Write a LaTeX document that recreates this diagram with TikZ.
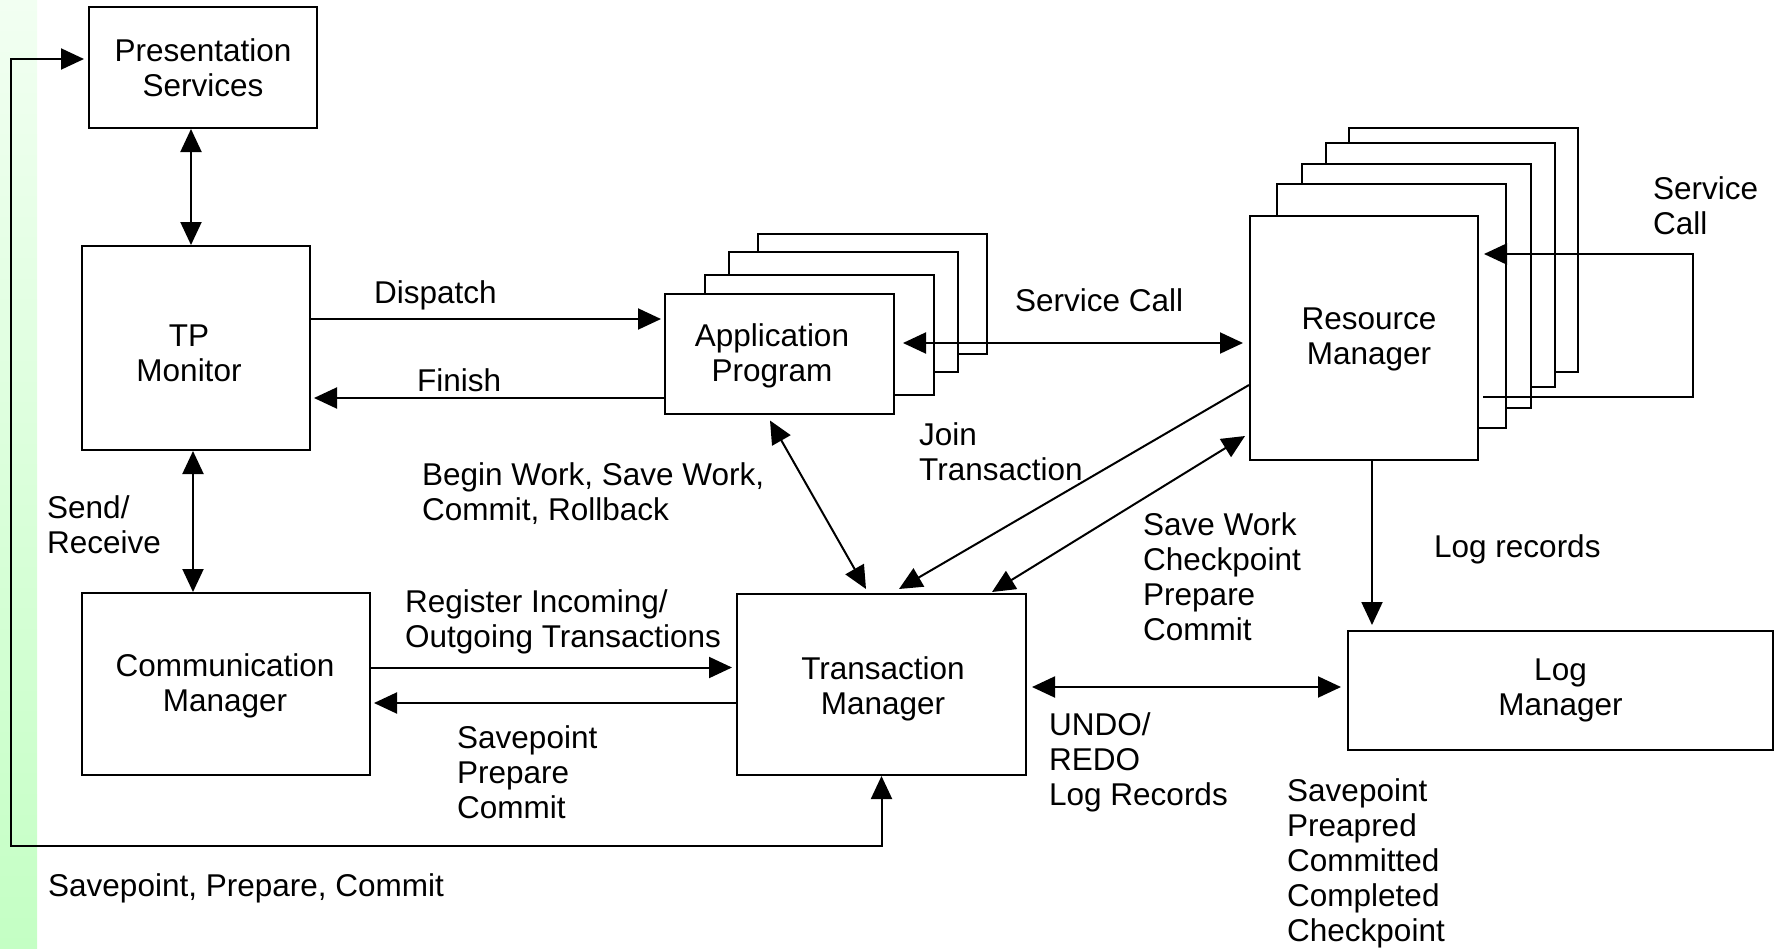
\documentclass[tikz,border=0pt]{standalone}
\usepackage{fontspec}
\setmainfont{Liberation Sans}
\usetikzlibrary{arrows.meta}
\definecolor{gtop}{RGB}{242,255,242}
\definecolor{gbot}{RGB}{196,255,196}
\newcommand{\diafont}{\fontsize{31.5}{35}\selectfont}
\begin{document}
\begin{tikzpicture}[x=1pt,y=-1pt,
  box/.style={draw, line width=2pt, fill=white, inner sep=0pt, align=center, font=\diafont},
  txt/.style={inner sep=0pt, align=center, font=\diafont},
  lbl/.style={inner sep=0pt, anchor=west, align=left, font=\diafont},
  ln/.style={line width=2pt},
  arr/.style={ln, -{Triangle[length=23pt,width=21pt]}},
  dbl/.style={ln, {Triangle[length=23pt,width=21pt]}-{Triangle[length=23pt,width=21pt]}}
]
\useasboundingbox (0,0) rectangle (1778,948);
\shade[top color=gtop, bottom color=gbot] (0,0) rectangle (37,948);

% boxes
\node[box, minimum width=228pt, minimum height=121pt] (ps) at (203,67.5) {Presentation\\Services};
\node[box, minimum width=228pt, minimum height=204pt] (tp) at (196,348) {};
\node[txt] (tptext) at (189,353) {TP\\Monitor};
\node[box, minimum width=288pt, minimum height=182pt] (cm) at (226,684) {};
\node[txt] (cmtext) at (225,686) {Communication\\Manager};

\node[box, minimum width=229pt, minimum height=120pt] (app4) at (872,294) {};
\node[box, minimum width=229pt, minimum height=120pt] (app3) at (843.5,312) {};
\node[box, minimum width=229pt, minimum height=120pt] (app2) at (819.5,334.5) {};
\node[box, minimum width=229pt, minimum height=120pt] (app) at (779.5,353.5) {};
\node[txt] (apptext) at (772,356) {Application\\Program};

\node[box, minimum width=229pt, minimum height=244pt] (rm5) at (1463.5,250) {};
\node[box, minimum width=229pt, minimum height=244pt] (rm4) at (1440,265) {};
\node[box, minimum width=229pt, minimum height=244pt] (rm3) at (1416,285.5) {};
\node[box, minimum width=229pt, minimum height=244pt] (rm2) at (1391.5,306) {};
\node[box, minimum width=228pt, minimum height=244pt] (rm) at (1364,338) {};
\node[txt] (rmtext) at (1369,339) {Resource\\Manager};

\node[box, minimum width=289pt, minimum height=181pt] (tm) at (881.5,684.5) {};
\node[txt] (tmtext) at (883,689) {Transaction\\Manager};
\node[box, minimum width=425pt, minimum height=119pt] (lm) at (1560.5,690.5) {Log\\Manager};

% connectors
\draw[dbl] ([xshift=-12pt]ps.south) -- ([xshift=-12pt]ps.south |- tp.north);
\draw[dbl] ([xshift=-3pt]tp.south) -- ([xshift=-3pt]tp.south |- cm.north);

\draw[arr, shorten >=3pt] ([yshift=29pt]tp.east) -- ([yshift=29pt]tp.east -| app.west);
\draw[arr, shorten >=3pt] ([yshift=-50pt]tp.east -| app.west) -- ([yshift=-50pt]tp.east);

\coordinate (sca) at (903,343);
\draw[dbl, shorten >=6pt] (sca) -- (sca -| rm.west);

\draw[dbl] ([shift={(-9.5,6)}]app.south) -- ([shift={(-15.5,-4)}]tm.north);
\draw[arr] ([shift={(0,47)}]rm.west) -- ([shift={(17.5,-4)}]tm.north);
\draw[dbl] ([shift={(-4,98)}]rm.west) -- ([shift={(110.5,-1)}]tm.north);

\draw[arr, shorten >=4pt] ([yshift=16.5pt]cm.east) -- ([yshift=16.5pt]cm.east -| tm.west);
\draw[arr, shorten >=3pt] ([yshift=-18.5pt]tm.west) -- ([yshift=-18.5pt]tm.west -| cm.east);

\draw[dbl, shorten <=5pt, shorten >=6pt] ([yshift=-2.5pt]tm.east) -- ([yshift=-2.5pt]tm.east -| lm.west);
\draw[arr, shorten >=5pt] ([xshift=8pt]rm.south) -- ([xshift=8pt]rm.south |- lm.north);

\coordinate (scr) at (1693,254);
\draw[arr] ([shift={(4,59)}]rm.east) -| (scr) -- ([shift={(5,-84)}]rm.east);

\coordinate (lpc) at (11,846);
\draw[dbl, shorten >=4pt] (tm.south) |- (lpc) |- ([yshift=8.5pt]ps.west);

% labels
\node[lbl] (l1) at (374,295) {Dispatch};
\node[lbl] (l2) at (417,380) {Finish};
\node[lbl] (l3) at (1015,300) {Service Call};
\node[lbl] (l4) at (1653,206) {Service\\Call};
\node[lbl] (l5) at (47,525) {Send/\\Receive};
\node[lbl] (l6) at (422,494) {Begin Work, Save Work,\\Commit, Rollback};
\node[lbl] (l7) at (919,452) {Join\\Transaction};
\node[lbl] (l8) at (1143,577) {Save Work\\Checkpoint\\Prepare\\Commit};
\node[lbl] (l9) at (1434,549) {Log records};
\node[lbl] (l10) at (405,622) {Register Incoming/\\Outgoing Transactions};
\node[lbl] (l11) at (457,772) {Savepoint\\Prepare\\Commit};
\node[lbl] (l12) at (1049,762) {UNDO/\\REDO\\Log Records};
\node[lbl] (l13) at (1287,863) {Savepoint\\Preapred\\Committed\\Completed\\Checkpoint};
\node[lbl] (l14) at (48,888) {Savepoint, Prepare, Commit};
\end{tikzpicture}
\end{document}
